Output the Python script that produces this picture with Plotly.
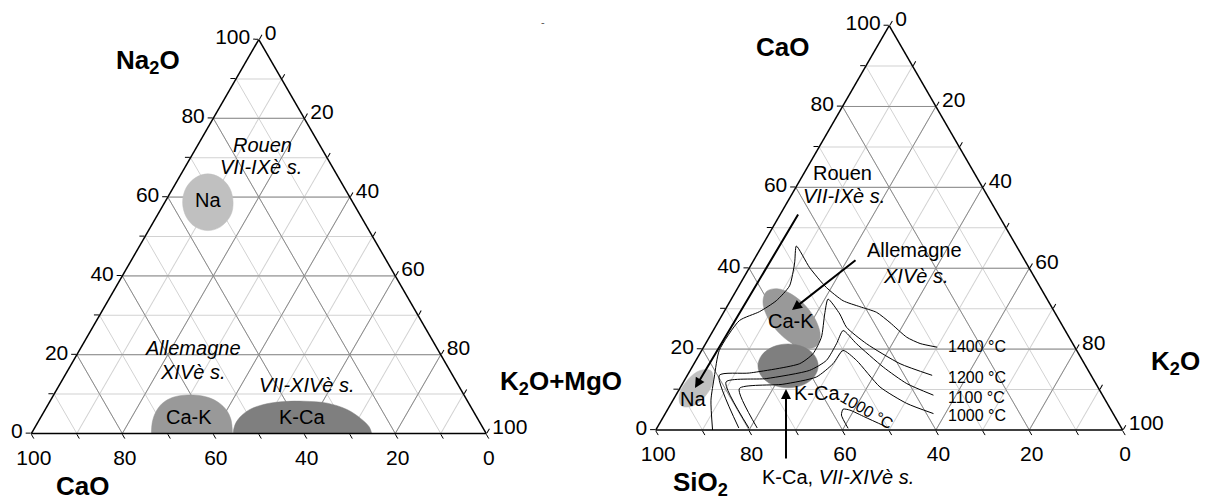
import plotly.graph_objects as go

FONT = "Arial, 'Liberation Sans', Helvetica, sans-serif"

# ---------------- axis ticks ----------------
tick_vals = [0, 10, 20, 30, 40, 50, 60, 70, 80, 90, 100]
tick_text = ["0", "", "20", "", "40", "", "60", "", "80", "", "100"]
major_levels = [20, 40, 60, 80]

# ---------------- LEFT diagram: a = Na2O, b = CaO, c = K2O+MgO (%) ----------------
left_na_a = [58.7, 62.3, 64.9, 65.9, 64.9, 62.3, 58.7, 55.1, 52.45, 51.5, 52.45, 55.1, 58.7]
left_na_b = [26.3, 25.25, 26.0, 28.25, 31.5, 34.85, 37.4, 38.45, 37.75, 35.45, 32.2, 28.35, 26.3]
left_na_c = [15.0, 12.45, 9.1, 5.85, 3.6, 2.85, 3.9, 6.45, 9.8, 13.05, 15.35, 16.05, 15.0]

left_cak_a = [0, 2.84, 5.35, 7.61, 9.12, 9.72, 9.72, 9.12, 7.74, 5.85, 3.59, 0]
left_cak_b = [73.61, 71.99, 70.01, 67.44, 64.46, 61.5, 58.84, 56.48, 54.84, 54.13, 54.33, 55.79]
left_cak_c = [26.39, 25.17, 24.64, 24.95, 26.42, 28.78, 31.44, 34.4, 37.42, 40.02, 42.08, 44.21]

left_kca_a = [0, 2.09, 4.1, 6.11, 7.54, 8.12, 8.19, 7.69, 6.03, 3.77, 1.66, 0]
left_kca_b = [55.65, 54.23, 52.12, 48.89, 44.48, 40.13, 36.1, 31.1, 27.5, 25.68, 24.89, 25.19]
left_kca_c = [44.35, 43.68, 43.78, 45.0, 47.98, 51.75, 55.7, 61.21, 66.47, 70.55, 73.45, 74.81]

# ---------------- RIGHT diagram: a = CaO, b = SiO2, c = K2O (%) ----------------
right_na_a = [14.68, 12.07, 8.43, 5.9, 5.97, 8.58, 12.22, 14.73, 14.68]
right_na_b = [80.83, 81.67, 85.14, 89.22, 91.51, 90.68, 87.2, 83.13, 80.83]
right_na_c = [4.49, 6.26, 6.43, 4.88, 2.52, 0.74, 0.58, 2.14, 4.49]

right_cak_a = [20.8, 23.28, 26.87, 30.66, 33.61, 34.94, 34.28, 31.79, 28.2, 24.42, 21.47, 20.14, 20.8]
right_cak_b = [55.17, 53.13, 52.18, 52.54, 54.15, 56.53, 59.1, 61.14, 62.09, 61.73, 60.13, 57.74, 55.17]
right_cak_c = [24.03, 23.59, 20.95, 16.8, 12.24, 8.53, 6.62, 7.07, 9.71, 13.85, 18.4, 22.12, 24.03]

right_kca_a = [15.86, 18.56, 20.56, 21.27, 20.56, 18.56, 15.86, 13.15, 11.16, 10.45, 11.16, 13.15, 15.86]
right_kca_b = [57.27, 56.78, 58.15, 61.03, 64.6, 67.97, 70.18, 70.68, 69.3, 66.44, 62.85, 59.49, 57.27]
right_kca_c = [26.87, 24.66, 21.29, 17.7, 14.84, 13.47, 13.96, 16.17, 19.54, 23.11, 25.99, 27.36, 26.87]

# isotherms
iso1400_a = [0, 7.38, 13.11, 19.67, 27.05, 29.26, 31.96, 35.65, 41.31, 45.49, 40.15, 35.23, 31.96, 30.49, 29.09, 26.56, 22.94, 21.39, 20.48]
iso1400_b = [87.83, 84.48, 80.9, 76.56, 68.56, 63.15, 58.21, 53.51, 49.6, 47.14, 46.96, 45.83, 43.89, 41.04, 38.15, 36.55, 34.77, 32.69, 29.48]
iso1400_c = [12.17, 8.14, 5.99, 3.77, 4.39, 7.59, 9.83, 10.84, 9.09, 7.37, 12.89, 18.94, 24.15, 28.47, 32.76, 36.89, 42.29, 45.92, 50.04]

iso1200_a = [0.5, 13.52, 14.09, 16.4, 18.86, 22.94, 28.69, 32.38, 28.69, 25.4, 21.32, 16.4, 13.52]
iso1200_b = [81.96, 79.63, 72.9, 60.98, 56.89, 53.05, 49.47, 46.91, 46.24, 46.44, 44.18, 39.48, 34.04]
iso1200_c = [17.54, 6.85, 13.01, 22.62, 24.25, 24.01, 21.84, 20.71, 25.07, 28.16, 34.5, 44.12, 52.44]

iso1100_a = [0.5, 11.88, 12.71, 14.75, 17.21, 21.32, 24.59, 21.32, 15.56, 11.48, 8.61]
iso1100_b = [79.81, 79.01, 69.99, 59.66, 54.84, 50.63, 47.58, 46.33, 43.49, 40.5, 36.22]
iso1100_c = [19.69, 9.11, 17.3, 25.59, 27.95, 28.05, 27.83, 32.35, 40.95, 48.02, 55.17]

iso1000_a = [0.5, 10.25, 11.31, 13.11, 16.4, 19.67, 17.21, 10.65, 6.57, 4.06]
iso1000_b = [78.02, 76.97, 67.12, 59.04, 53.82, 50.04, 48.39, 46.66, 42.96, 38.49]
iso1000_c = [21.48, 12.78, 21.57, 27.85, 29.78, 30.29, 34.4, 42.69, 50.47, 57.45]

iso1000b_a = [0.42, 3.69, 5.16, 4.92, 3.2, 0.74]
iso1000b_b = [58.59, 58.38, 57.29, 55.97, 53.6, 50.17]
iso1000b_c = [40.99, 37.93, 37.55, 39.11, 43.2, 49.09]

# ---------------- text labels (pixel anchor positions in the window) ----------------
left_titles = ["<b>Na<sub>2</sub>O</b>", "<b>CaO</b>", "<b>K<sub>2</sub>O+MgO</b>"]
left_titles_xy = [(148, 62), (82, 486), (561, 382)]
right_titles = ["<b>CaO</b>", "<b>SiO<sub>2</sub></b>", "<b>K<sub>2</sub>O</b>"]
right_titles_xy = [(782, 47), (700, 483), (1175, 362)]

labels = [
    ("<i>Rouen</i>", 262, 145, 20), ("<i>VII-IXè s.</i>", 261, 167, 20), ("Na", 208, 200, 20),
    ("<i>Allemagne</i>", 193, 348, 20), ("<i>XIVè s.</i>", 192, 372, 20),
    ("Ca-K", 189, 417, 20), ("K-Ca", 302, 417, 20), ("<i>VII-XIVè s.</i>", 307, 385, 20),
    ("Rouen", 842, 173, 20), ("<i>VII-IXè s.</i>", 844, 196, 20),
    ("Allemagne", 914, 250, 20), ("<i>XIVè s.</i>", 915, 276, 20),
    ("Ca-K", 791, 321, 20), ("K-Ca", 817, 393, 20), ("Na", 693, 399, 20),
    ("1400 °C", 977, 346, 16), ("1200 °C", 977, 377, 16), ("1100 °C", 977, 397, 16),
    ("1000 °C", 977, 415, 16), ("K-Ca, <i>VII-XIVè s.</i>", 838, 477, 20),
]

# arrows: (tip x, tip y, tail x, tail y) in window pixels
arrows = [(695, 388, 799, 213), (792, 310, 857, 259), (786, 389, 786, 460)]

OFF = 8                      # default page body margin
W, H = 1210 - OFF, 500 - OFF
fig = go.Figure()


def px(x):
    return (x - OFF) / W


def py(y):
    return 1 - (y - OFF) / H


def add_major_grid(sub):
    for v in major_levels:
        for (aa, bb, cc) in (([v, v], [100 - v, 0], [0, 100 - v]),
                             ([100 - v, 0], [v, v], [0, 100 - v]),
                             ([100 - v, 0], [0, 100 - v], [v, v])):
            fig.add_trace(go.Scatterternary(a=aa, b=bb, c=cc, mode="lines", subplot=sub,
                                            line=dict(color="#8c8c8c", width=1),
                                            hoverinfo="skip", showlegend=False))


def add_blob(sub, a, b, c, color):
    fig.add_trace(go.Scatterternary(a=a, b=b, c=c, mode="lines", fill="toself", fillcolor=color,
                                    line=dict(color=color, width=0.5, shape="spline"),
                                    subplot=sub, hoverinfo="skip", showlegend=False))


def add_line(sub, a, b, c):
    fig.add_trace(go.Scatterternary(a=a, b=b, c=c, mode="lines", subplot=sub,
                                    line=dict(color="black", width=1, shape="spline", smoothing=0.6),
                                    hoverinfo="skip", showlegend=False))


add_major_grid("ternary")
add_blob("ternary", left_na_a, left_na_b, left_na_c, "#c0c0c0")
add_blob("ternary", left_cak_a, left_cak_b, left_cak_c, "#999999")
add_blob("ternary", left_kca_a, left_kca_b, left_kca_c, "#7f7f7f")

add_major_grid("ternary2")
add_blob("ternary2", right_na_a, right_na_b, right_na_c, "#c0c0c0")
add_blob("ternary2", right_cak_a, right_cak_b, right_cak_c, "#999999")
add_blob("ternary2", right_kca_a, right_kca_b, right_kca_c, "#7f7f7f")
add_line("ternary2", iso1400_a, iso1400_b, iso1400_c)
add_line("ternary2", iso1200_a, iso1200_b, iso1200_c)
add_line("ternary2", iso1100_a, iso1100_b, iso1100_c)
add_line("ternary2", iso1000_a, iso1000_b, iso1000_c)
add_line("ternary2", iso1000b_a, iso1000b_b, iso1000b_c)


def axis_cfg():
    return dict(tickmode="array", tickvals=tick_vals, ticktext=tick_text,
                ticks="outside", ticklen=5, tickwidth=1, tickcolor="black",
                showline=True, linecolor="black", linewidth=1.5,
                showgrid=True, gridcolor="#d2d2d2", gridwidth=1,
                tickfont=dict(size=21, family=FONT, color="black"),
                title=dict(text=""), min=0)


def tern(x0, x1, ybot, ytop):
    return dict(domain=dict(x=[px(x0), px(x1)], y=[py(ybot), py(ytop)]),
                sum=100, bgcolor="white",
                aaxis=axis_cfg(), baxis=axis_cfg(), caxis=axis_cfg())


annotations = []
for txt, (x, y) in zip(left_titles + right_titles, left_titles_xy + right_titles_xy):
    annotations.append(dict(text=txt, x=px(x), y=py(y), xref="paper", yref="paper",
                            showarrow=False, xanchor="center", yanchor="middle",
                            font=dict(size=26, family=FONT, color="black")))
for txt, x, y, fs in labels:
    annotations.append(dict(text=txt, x=px(x), y=py(y), xref="paper", yref="paper",
                            showarrow=False, xanchor="center", yanchor="middle",
                            font=dict(size=fs, family=FONT, color="black")))
annotations.append(dict(text="1000 °C", x=px(867), y=py(410), xref="paper", yref="paper",
                        showarrow=False, textangle=30, xanchor="center", yanchor="middle",
                        font=dict(size=16, family=FONT, color="black")))
annotations.append(dict(text="-", x=px(543), y=py(14), xref="paper", yref="paper",
                        showarrow=False, font=dict(size=11, family=FONT, color="#555")))
for tx, ty, sx, sy in arrows:
    annotations.append(dict(text="", x=px(tx), y=py(ty), xref="paper", yref="paper",
                            showarrow=True, ax=sx - tx, ay=sy - ty, arrowhead=2, arrowsize=1,
                            arrowwidth=2, arrowcolor="black"))

fig.update_layout(
    width=W, height=H, margin=dict(l=0, r=0, t=0, b=0),
    paper_bgcolor="white", plot_bgcolor="white", showlegend=False,
    font=dict(family=FONT, color="black"),
    ternary=tern(31.3, 486.3, 433.5, 39.5),
    ternary2=tern(655.7, 1122.7, 430.0, 25.6),
    annotations=annotations,
)

fig.write_html("out.html")
